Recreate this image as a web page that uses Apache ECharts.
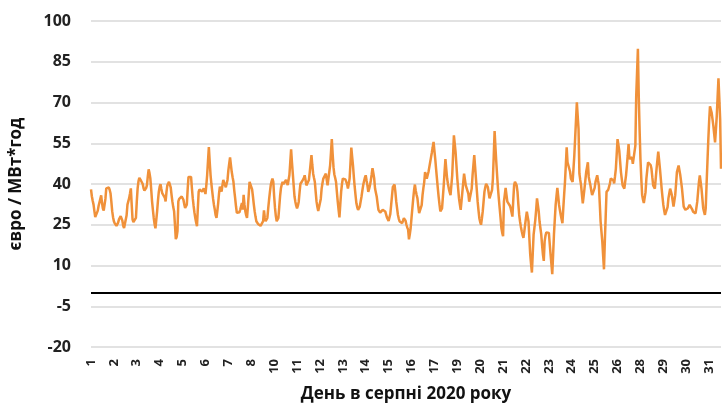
<!DOCTYPE html>
<html>
<head>
<meta charset="utf-8">
<script src="https://cdn.jsdelivr.net/npm/echarts@6/dist/echarts.min.js"></script>
<style>
  html, body { margin: 0; padding: 0; background: #fff; }
  #chart { width: 722px; height: 408px; }
</style>
</head>
<body>
<div id="chart"></div>
<script>
// дні серпня 2020, по 24 години на день
var days = [1, 2, 3, 4, 5, 6, 7, 8, 9, 10, 11, 12, 13, 14, 15, 16, 17, 18, 19, 20, 21, 22, 23, 24, 25, 26, 27, 28, 29, 30, 31];
var hoursPerDay = 24;

// погодинні ціни, євро / МВт*год (по одному рядку на день)
var hourlyPrices = [
  [38, 35.5, 33.8, 32.4, 30, 27.8, 27.6, 28, 30.2, 32, 31.5, 32.5, 35.8, 33, 31, 30.2, 30.7, 34.5, 38.4, 38.9, 39, 38.7, 37.9, 36.6],
  [33.5, 30, 27.8, 26.3, 25.5, 25, 24.6, 24.5, 25.8, 27, 27.5, 28.2, 28, 26.5, 24.6, 23.8, 24.2, 23.8, 28.5, 32.4, 33.6, 34.8, 36.5, 38.4],
  [32.4, 27, 26, 25.6, 25.4, 27.5, 33.5, 38.4, 41, 42.3, 42, 41.2, 41.5, 40, 38.4, 37.6, 37.2, 38.5, 39.6, 42.8, 45.4, 44, 42, 38],
  [33.6, 30.5, 27.5, 25.2, 23.7, 26.8, 30, 34, 37.2, 39, 39.9, 38.2, 36.6, 37.2, 36.6, 35, 33.6, 37, 39.5, 40, 40.8, 41, 38.8, 36],
  [33.5, 31.5, 30, 25, 19.7, 20.5, 22.7, 33.6, 34.5, 33.8, 34.2, 35.4, 35, 34.2, 32.5, 31.2, 31.6, 32.4, 38, 42.6, 43.2, 42.8, 42.6, 38.5],
  [34.8, 32, 29.5, 27.5, 25.8, 24.5, 31, 37.2, 38, 37.6, 38.4, 37.2, 37.8, 38.4, 37.5, 36.3, 39.5, 43.3, 48.5, 53.6, 48.2, 43.3, 40, 37.2],
  [34.5, 32.3, 30.6, 28.5, 27.5, 30, 33, 36.5, 39, 38.2, 37.2, 39.5, 41.5, 40.8, 39.6, 38.8, 38.4, 41.5, 45, 47.5, 49.8, 47, 44.4, 42.5],
  [40.8, 37.5, 34.8, 31.8, 29.4, 29, 28.8, 29.6, 30.6, 31.8, 33, 30.6, 36, 32.5, 30, 28.5, 27.5, 31.5, 36, 40.8, 40.5, 40.2, 38, 35.4],
  [32.5, 30, 28, 26.3, 25.8, 25.3, 25.1, 24.8, 24.6, 24.5, 25.2, 26.3, 30.3, 27.5, 26.3, 26.8, 27.5, 31, 34.2, 37, 39.6, 41, 42, 40.8],
  [35.5, 31.2, 28.2, 26.3, 26.5, 27.5, 31.5, 35.5, 38.4, 39.8, 40.8, 40, 39.6, 40.5, 41.5, 40.4, 39.6, 41.5, 43.3, 48, 52.8, 48, 43.8, 39.5],
  [35.4, 33.5, 32, 31, 32, 33.5, 37, 40.1, 40.8, 41, 41.3, 42.2, 43.2, 41.5, 39.5, 39, 38.9, 41.5, 44.4, 47.5, 50.6, 47, 43.8, 42.2],
  [40.7, 37, 33.5, 31.5, 30.1, 30, 30.5, 34.5, 38.3, 40.3, 42, 42.3, 42.6, 43.8, 41.5, 39.5, 39.2, 38.9, 46.8, 51.5, 56.5, 51, 46.2, 43.5],
  [42.2, 40.7, 37, 33.5, 30.5, 27.7, 32.5, 37.1, 40, 42, 41.8, 41.5, 41.7, 42, 40, 38.3, 40, 42, 47.5, 53.4, 50, 46.8, 42.5, 38.9],
  [35.8, 32.9, 31.4, 30.5, 30.9, 31.7, 33.5, 35.3, 37.5, 39.5, 41, 42.3, 43.2, 41.3, 39.5, 37.1, 38.2, 39.5, 41.3, 43.5, 45.8, 44, 42, 38.3],
  [36.8, 35.3, 32.8, 30.5, 29.8, 29.5, 29.3, 29.9, 30.5, 31, 30.4, 29.9, 28.8, 27.7, 27, 26.4, 26, 29, 32.3, 35.6, 38.9, 39.6, 39.8, 37],
  [33.5, 31, 28.6, 27.2, 26.2, 25.8, 25.6, 25.6, 26.5, 27.4, 28, 26.5, 25, 24, 23.2, 19.6, 21.5, 23.8, 27.5, 31, 34.5, 37.7, 39.8, 37.5],
  [36, 34.7, 31.8, 29.3, 28.8, 28.6, 32.2, 35.9, 38.5, 40.7, 44.4, 43.2, 42, 43.2, 44.4, 46.2, 48, 49.8, 51.6, 53.5, 55.5, 52.3, 49.2, 45.5],
  [42, 38.5, 35.3, 32.5, 29.9, 30.2, 31, 35.2, 39.5, 44.5, 49.2, 45.5, 42, 40, 38.3, 37, 35.9, 39.5, 43.2, 50.5, 57.9, 54.8, 51.6, 46.8],
  [42, 38.3, 34.7, 32.5, 30.5, 33.8, 37.1, 40.5, 43.8, 41.6, 39.5, 39.2, 39.5, 36.5, 33.5, 33.2, 33.5, 38.3, 43.2, 47, 50.6, 46.3, 42, 37.8],
  [33.5, 30.3, 27.4, 26, 25, 27.3, 29.9, 33.5, 37.1, 38.8, 40.1, 39.5, 38.9, 36.8, 34.7, 34.3, 34.1, 37.8, 42, 50.5, 59.5, 53.5, 48, 43],
  [38.3, 34.5, 31, 27.5, 23.8, 22, 20.8, 33.5, 36, 38.6, 36, 33.5, 33.2, 32.9, 32, 31, 29.5, 28, 34, 39.5, 40.8, 41.4, 39.5, 37.1],
  [32.5, 28.6, 26.2, 24.2, 22.6, 21.2, 20.2, 22.5, 25, 27.5, 29.8, 28, 26.2, 20, 14.1, 10.5, 7.4, 14.5, 21.4, 24, 26.8, 30.5, 34.7, 34.1],
  [30, 26.2, 23.8, 21.4, 17.5, 14, 11.7, 18.9, 21, 22.2, 22.6, 22.3, 22, 18, 14.1, 10.5, 6.8, 14, 21.4, 27, 32.3, 35.5, 38.6, 35.5],
  [32.3, 30.4, 28.6, 27, 25.6, 31, 36, 40.8, 47, 53.5, 48, 47.6, 47.4, 44.5, 42, 41.3, 40.8, 45.5, 50.5, 57, 63.5, 70.1, 65, 60.2],
  [43.8, 41.5, 39.5, 36, 32.9, 35.5, 38.3, 41.3, 44.4, 46.2, 48, 42.6, 41, 39.5, 37.6, 35.9, 36.2, 36.5, 38.6, 40.8, 42, 43.2, 41.3, 39.5],
  [33, 26.2, 22.5, 18.9, 13.5, 8.6, 18.9, 28, 37.1, 37.5, 37.9, 38.3, 40.2, 42, 42.3, 42.6, 41.4, 40.2, 42.8, 45.6, 51, 56.5, 54.4, 52.3],
  [48.3, 44.4, 41.8, 39.5, 38.8, 38.3, 40.8, 43.2, 46.8, 50.5, 54.7, 49.2, 49.4, 49.6, 49.8, 47.4, 47.7, 48, 54.1, 72.3, 81, 89.8, 72.3, 60],
  [49.2, 42, 35.9, 34.2, 33, 32.3, 37, 42, 45, 48, 48.3, 48.6, 47, 45.6, 42.5, 39.5, 38.8, 38.3, 42, 45.6, 48.8, 51.9, 48.8, 45.6],
  [42, 38.3, 35.2, 32.3, 30.2, 28.6, 28.4, 28.6, 31.5, 34.7, 36.5, 38.3, 37.2, 35.9, 33.8, 31.7, 33.8, 35.9, 40, 44.4, 45.6, 46.8, 45, 43.2],
  [40.8, 38.3, 35, 31.7, 31, 30.5, 30.7, 30.9, 31.1, 31.7, 32.3, 32, 31.7, 30.7, 29.8, 29.5, 29.3, 29.2, 31.3, 33.5, 37.2, 40.8, 43.2, 40.8],
  [38.3, 34.7, 31.1, 29.8, 28.6, 31.1, 40, 48, 56, 63, 68.6, 67.4, 66.2, 63.8, 61.4, 58.3, 55.3, 60, 65, 72, 78.9, 71.5, 63.8, 45.6]
];

var yMin = -20;
var yMax = 100;
var yStep = 15;

var categories = [];
var values = [];
days.forEach(function (d, k) {
  for (var h = 0; h < hoursPerDay; h++) {
    categories.push(String(d));
    values.push(hourlyPrices[k][h]);
  }
});

var chart = echarts.init(document.getElementById('chart'), null, { renderer: 'canvas' });

var font = '"Open Sans", "DejaVu Sans", sans-serif';

var option = {
  animation: false,
  grid: {
    left: 89,
    right: 1,
    top: 21,
    bottom: 57
  },
  xAxis: {
    type: 'category',
    boundaryGap: false,
    data: categories,
    name: 'День в серпні 2020 року',
    nameLocation: 'middle',
    nameGap: 39,
    nameTextStyle: {
      fontFamily: font,
      fontWeight: 'bold',
      fontSize: 17,
      color: '#111'
    },
    axisLine: { show: false },
    axisTick: { show: false },
    splitLine: { show: false },
    axisLabel: {
      interval: 26,
      rotate: 90,
      margin: 12,
      fontFamily: font,
      fontWeight: 'bold',
      fontSize: 13,
      color: '#222'
    }
  },
  yAxis: {
    type: 'value',
    min: yMin,
    max: yMax,
    interval: yStep,
    name: 'євро / МВт*год',
    nameLocation: 'middle',
    nameGap: 66,
    nameTextStyle: {
      fontFamily: font,
      fontWeight: 'bold',
      fontSize: 17,
      color: '#111'
    },
    axisLine: { show: false },
    axisTick: { show: false },
    axisLabel: {
      margin: 20,
      fontFamily: font,
      fontWeight: 'bold',
      fontSize: 16,
      color: '#222'
    },
    splitLine: {
      lineStyle: {
        color: '#d9d9d9',
        width: 1.5
      }
    }
  },
  series: [{
    type: 'line',
    data: values,
    symbol: 'none',
    lineStyle: {
      color: '#F0913A',
      width: 2.5
    },
    markLine: {
      silent: true,
      symbol: ['none', 'none'],
      label: { show: false },
      lineStyle: { color: '#000', width: 2, type: 'solid' },
      data: [{ yAxis: 0 }]
    },
    z: 3
  }]
};

chart.setOption(option);
</script>
</body>
</html>
